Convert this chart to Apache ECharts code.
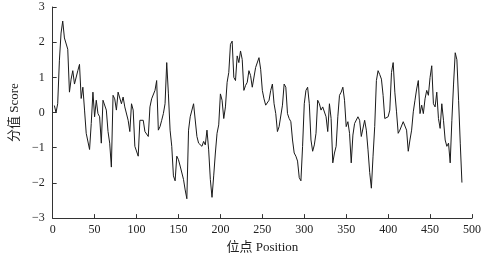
<!DOCTYPE html>
<html>
<head>
<meta charset="utf-8">
<script src="https://cdn.jsdelivr.net/npm/echarts@6/dist/echarts.min.js"></script>
<style>
html,body{margin:0;padding:0;background:#fff;}
#chart{width:490px;height:259px;}
</style>
</head>
<body>
<div id="chart"></div>
<script>
// Position sampling: first position and step
const startPos = 2;
const stepPos = 2;
// Score values (positions 2, 4, ..., 488)
const scores = [
  0.2, 0.0, 0.25, 1.47, 2.26, 2.6, 2.12, 2.07, 1.8, 0.58,
  0.95, 1.19, 0.81, 0.86, 1.19, 1.37, 0.4, 0.72, 0.07, -0.59,
  -0.59, -1.05, -0.31, 0.58, -0.12, 0.35, -0.03, -0.12, -0.87, 0.35,
  0.35, 0.07, -0.54, -0.87, -1.55, 0.49, 0.39, 0.07, 0.58, 0.63,
  0.25, 0.44, 0.16, 0.21, -0.22, -0.54, 0.25, 0.07, -0.96, -0.96,
  -1.24, -0.22, -0.22, -0.22, -0.54, -0.54, -0.68, 0.16, 0.39, 0.39,
  0.63, 0.91, -0.5, -0.4, -0.22, -0.03, 0.25, 1.42, 0.53, -0.5,
  -0.96, -1.8, -1.94, -1.24, -1.34, -1.52, -1.52, -1.9, -2.2, -2.45,
  -0.5, -0.12, -0.08, 0.25, 0.25, -0.68, -0.87, -0.87, -0.96, -0.82,
  -0.92, -0.5, -1.06, -1.9, -2.41, -1.8, -1.15, -0.59, -0.35, 0.53,
  0.35, -0.17, 0.16, 0.86, 1.14, 1.94, 2.03, 1.0, 0.91, 1.61,
  1.42, 1.75, 1.51, 0.63, 0.77, 0.86, 1.19, 1.05, 0.72, 0.77,
  1.28, 1.23, 1.56, 1.23, 0.63, 0.39, 0.21, 0.21, 0.35, 0.63,
  0.81, 0.25, -0.03, -0.54, -0.4, -0.45, 0.21, 0.81, 0.72, -0.03,
  -0.17, -0.26, -0.78, -1.15, -1.24, -1.38, -1.85, -1.94, -0.96, 0.25,
  0.63, 0.72, 0.25, -0.78, -1.1, -0.92, -0.59, 0.35, 0.25, 0.07,
  0.16, 0.21, -0.12, -0.54, 0.25, -0.17, -1.43, -1.15, -0.96, -0.12,
  0.49, 0.58, 0.72, 0.35, -0.4, -0.26, -0.59, -1.43, -0.64, -0.31,
  -0.31, -0.12, -0.22, -0.68, -0.68, -0.22, -0.5, -1.06, -1.7, -2.15,
  -1.24, -0.4, 0.91, 1.19, 1.08, 0.95, 0.49, -0.17, -0.12, -0.12,
  0.07, 1.14, 1.42, 0.58, 0.02, -0.59, -0.5, -0.5, -0.26, -0.31,
  -0.5, -1.1, -0.78, -0.5, 0.02, 0.35, 0.67, 0.91, -0.03, 0.21,
  -0.03, 0.39, 0.63, 0.49, 1.0, 1.33, 0.25, 0.16, 0.58, -0.17,
  -0.45, 0.25, -0.22, -0.78, -0.96, -0.87, -1.43, -0.22, 0.81, 1.7,
  1.5, 0.35, -0.87, -1.99
];
const xTicks = [0, 50, 100, 150, 200, 250, 300, 350, 400, 450, 500];
const yTicks = [-3, -2, -1, 0, 1, 2, 3];
const xName = '位点 Position';
const yName = '分值 Score';

const positions = scores.map((_, i) => startPos + stepPos * i);
const seriesData = positions.map((p, i) => [p, scores[i]]);

const fontFam = '"Liberation Serif", "Noto Sans CJK SC", serif';
const chart = echarts.init(document.getElementById('chart'), null, {renderer: 'canvas'});
chart.setOption({
  animation: false,
  backgroundColor: '#fff',
  grid: {left: 42, right: 18, top: 7, bottom: 38, containLabel: false},
  xAxis: {
    type: 'value',
    min: xTicks[0], max: xTicks[xTicks.length - 1], interval: 50,
    name: xName, nameLocation: 'middle', nameGap: 17,
    nameTextStyle: {fontFamily: fontFam, fontSize: 13, color: '#222'},
    axisLine: {show: true, onZero: false, lineStyle: {color: '#333', width: 1}},
    axisTick: {show: true, inside: true, length: 4, lineStyle: {color: '#333'}},
    axisLabel: {fontFamily: fontFam, fontSize: 12, color: '#222', margin: 6},
    splitLine: {show: false}
  },
  yAxis: {
    type: 'value',
    min: yTicks[0], max: yTicks[yTicks.length - 1], interval: 1,
    name: yName, nameLocation: 'middle', nameGap: 28,
    nameTextStyle: {fontFamily: fontFam, fontSize: 13, color: '#222'},
    axisLine: {show: true, onZero: false, lineStyle: {color: '#333', width: 1}},
    axisTick: {show: true, inside: true, length: 4, lineStyle: {color: '#333'}},
    axisLabel: {fontFamily: fontFam, fontSize: 12, color: '#222', margin: 8,
      formatter: v => String(v).replace('-', '\u2212')},
    splitLine: {show: false}
  },
  series: [{
    type: 'line',
    data: seriesData,
    showSymbol: false,
    symbol: 'none',
    lineStyle: {color: '#1a1a1a', width: 1},
    silent: true
  }]
});
</script>
</body>
</html>
